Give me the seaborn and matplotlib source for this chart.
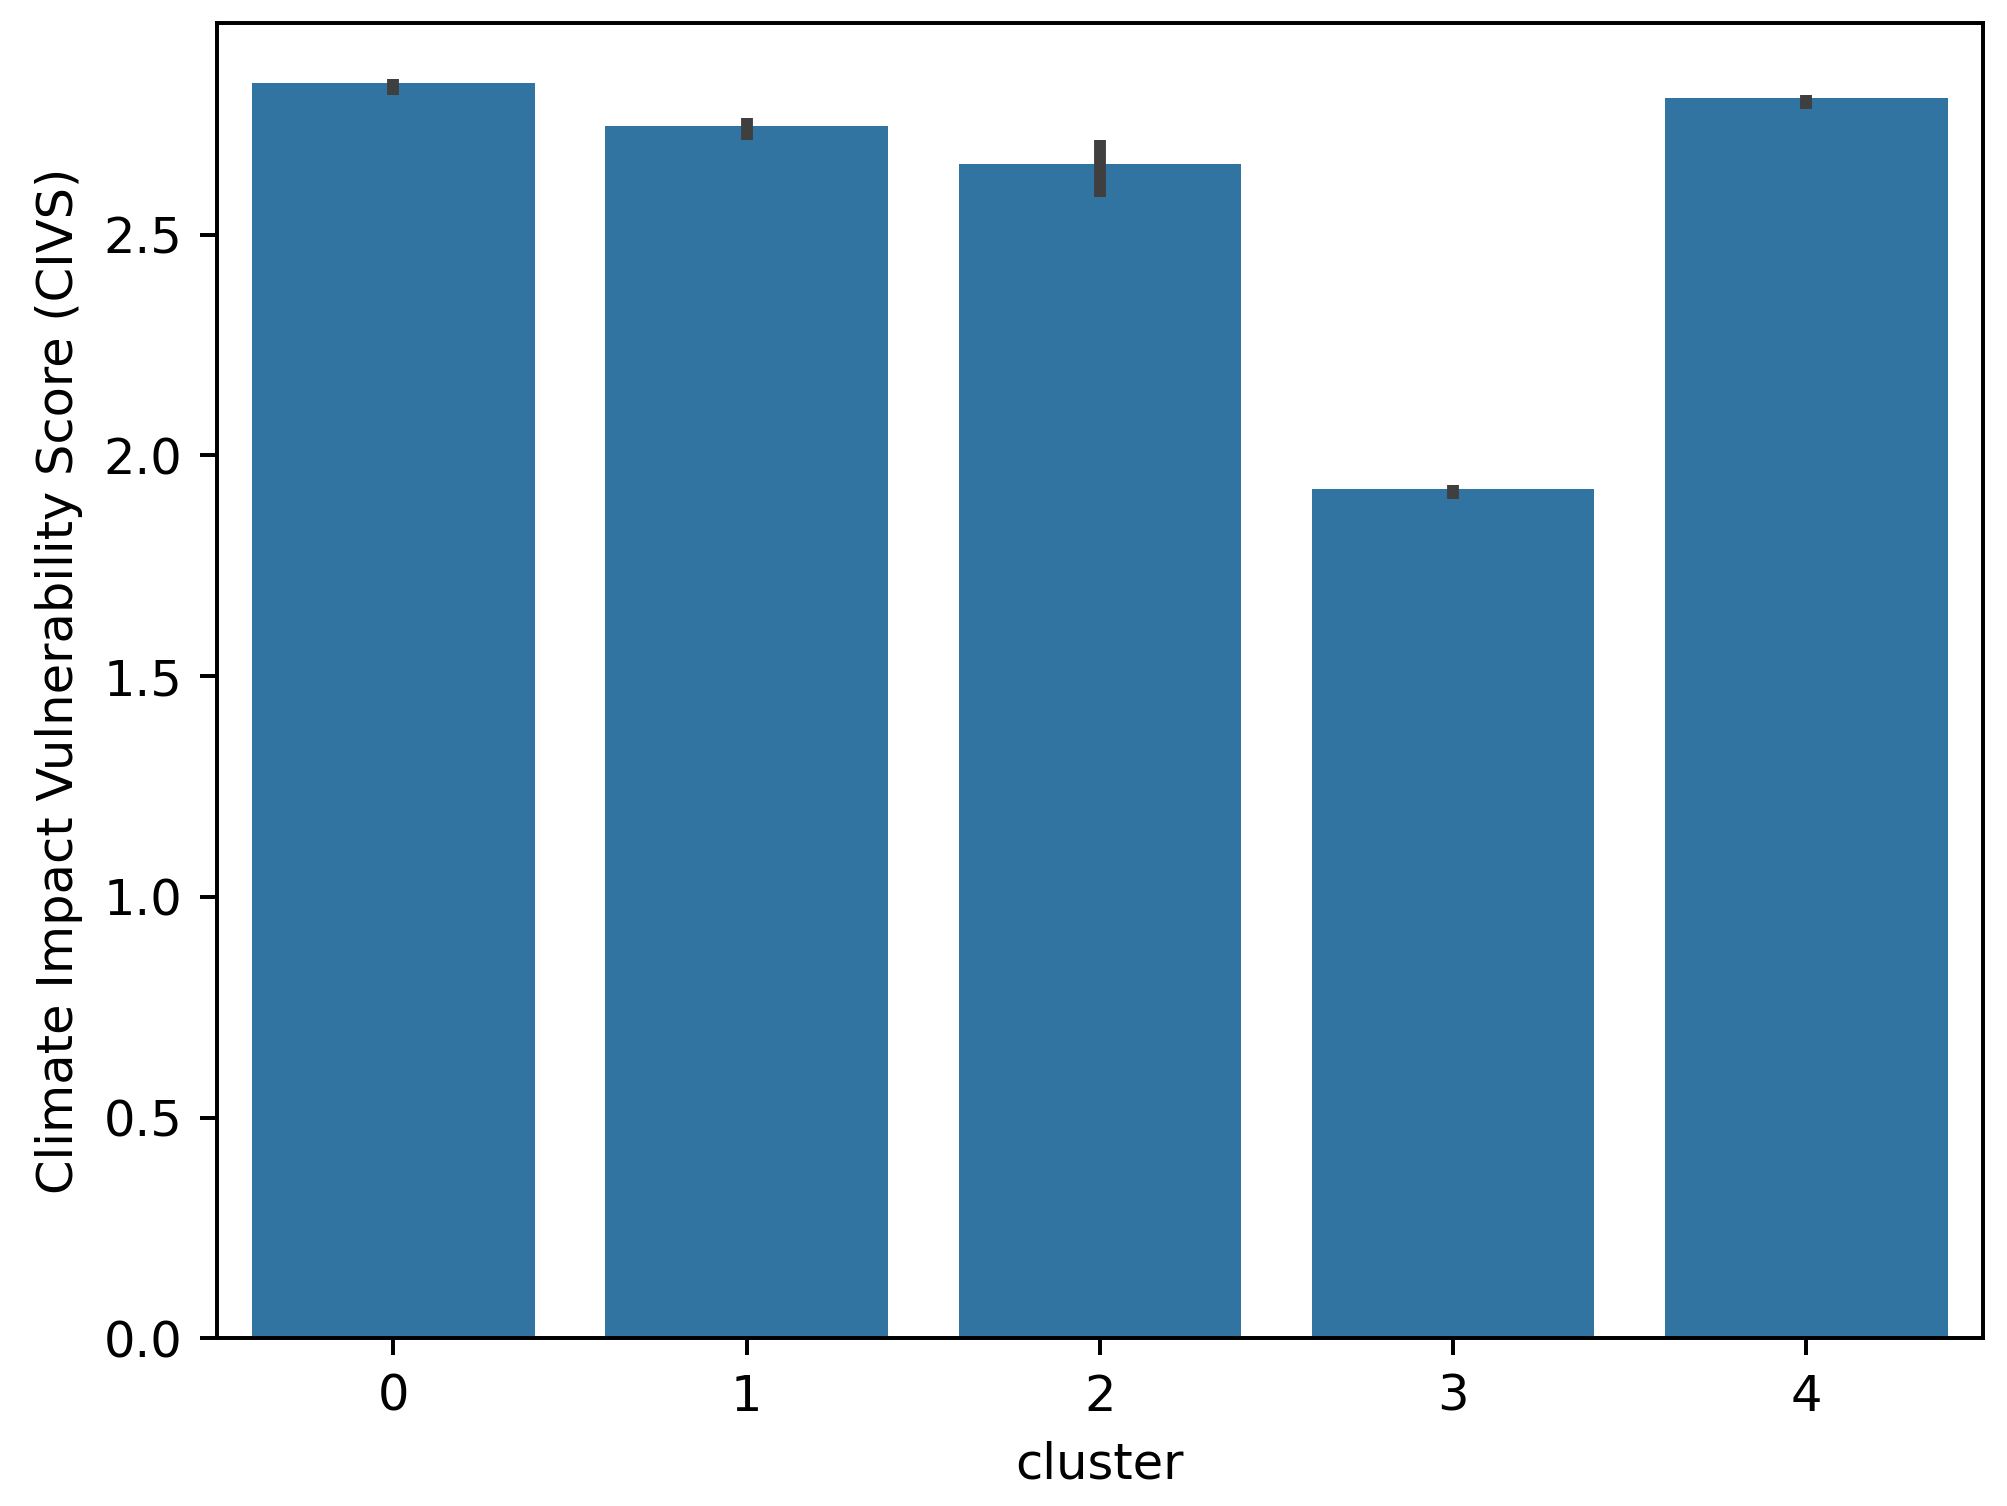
import matplotlib
matplotlib.use('Agg')
import matplotlib.pyplot as plt
import seaborn as sns
import pandas as pd

# ── Data ─────────────────────────────────────────────────────────────────────
clusters = [0, 1, 2, 3, 4]
civs_mean = [2.844, 2.745, 2.659, 1.923, 2.809]
ci_low = [2.817, 2.714, 2.585, 1.900, 2.785]
ci_high = [2.853, 2.763, 2.714, 1.932, 2.817]

df = pd.DataFrame({'cluster': clusters, 'civs': civs_mean})

DPI = 356
fig, ax = plt.subplots(figsize=(2007 / DPI, 1506 / DPI), dpi=DPI)
fig.subplots_adjust(left=0.108, right=0.988, top=0.985, bottom=0.1113)

sns.barplot(data=df, x='cluster', y='civs', errorbar=None, color='C0', ax=ax)

# confidence intervals as seaborn would draw them
ax.vlines(range(len(clusters)), ci_low, ci_high, color='#3f3f3f', linewidth=2.4)
ax.set_xlim(-0.5, len(clusters) - 0.5)
ax.set_ylim(0, 2.98)

ax.set_ylabel('Climate Impact Vulnerability Score (CIVS)')
ax.set_xlabel('cluster')

fig.savefig('out.png', dpi=DPI, facecolor='white')
plt.close()
